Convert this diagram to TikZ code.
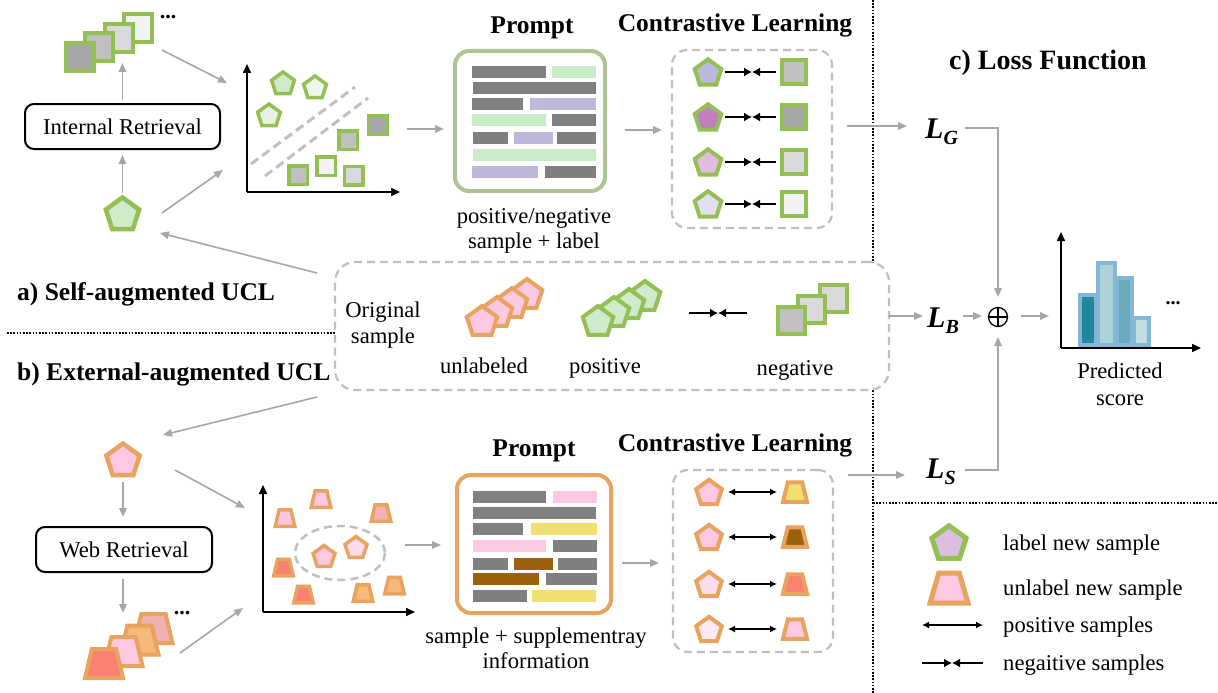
\documentclass[tikz,border=0pt]{standalone}
\usepackage{fontspec}
\setmainfont{Liberation Serif}
\usetikzlibrary{arrows.meta,calc}
\definecolor{cgreen}{HTML}{93BF55}
\definecolor{corange}{HTML}{E8A35E}
\definecolor{cgrayline}{HTML}{A6A6A6}
\definecolor{cdash}{HTML}{BFBFBF}
\definecolor{gA}{HTML}{A6A6A6}
\definecolor{gB}{HTML}{C0C0C0}
\definecolor{gC}{HTML}{D9D9D9}
\definecolor{gD}{HTML}{F2F2F2}
\definecolor{lgreen}{HTML}{CFEBCB}
\definecolor{lgreenB}{HTML}{E4F3E1}
\definecolor{lgreenC}{HTML}{F0F8EE}
\definecolor{barG}{HTML}{7F7F7F}
\definecolor{barGreen}{HTML}{CBEACA}
\definecolor{barPurple}{HTML}{BDB9DA}
\definecolor{cpink}{HTML}{FCC8E2}
\definecolor{cpinkB}{HTML}{FDDCEE}
\definecolor{cpinkC}{HTML}{FDE9F4}
\definecolor{csalmon}{HTML}{FA8072}
\definecolor{clorange}{HTML}{F5B97A}
\definecolor{crose}{HTML}{EFB1B1}
\definecolor{cyellow}{HTML}{F1E070}
\definecolor{cbrown}{HTML}{9C610C}
\definecolor{cpromptG}{HTML}{B1C394}
\definecolor{cpurpA}{HTML}{BDB9DA}
\definecolor{cpurpB}{HTML}{C17FC0}
\definecolor{cpurpC}{HTML}{E2BCE0}
\definecolor{cpurpD}{HTML}{E1E0F0}
\definecolor{clegpurp}{HTML}{DDBEDD}
\definecolor{cblueb}{HTML}{84B6D8}
\definecolor{ctealA}{HTML}{23869A}
\definecolor{ctealB}{HTML}{AED2DA}
\definecolor{ctealC}{HTML}{69ABB8}
\definecolor{ctealD}{HTML}{C0DDE1}
% pentagon: [lw]{x}{y}{R}{fill}{draw}
\newcommand\pent[6][3.5]{%
  \filldraw[fill=#5,draw=#6,line width=#1,line join=miter]
   (#2,#3-#4) -- (#2+0.951*#4,#3-0.309*#4) -- (#2+0.588*#4,#3+0.809*#4)
   -- (#2-0.588*#4,#3+0.809*#4) -- (#2-0.951*#4,#3-0.309*#4) -- cycle;}
% square: [lw]{x}{y}{size}{fill}
\newcommand\sqr[5][4]{\filldraw[fill=#5,draw=cgreen,line width=#1,line join=miter] (#2-#4/2,#3-#4/2) rectangle (#2+#4/2,#3+#4/2);}
% trapezoid: [lw]{x}{y}{w}{h}{fill}{ratio}
\newcommand\trap[7][4]{\filldraw[fill=#6,draw=corange,line width=#1,line join=miter] (#2-#4/2,#3+#5/2) -- (#2+#4/2,#3+#5/2) -- (#2+#7*#4,#3-#5/2) -- (#2-#7*#4,#3-#5/2) -- cycle;}
% prompt bar
\newcommand\pbar[4]{\fill[#4] (#1,#3-5.8) rectangle (#2,#3+5.8);}
\newcommand\Lsym[1]{{\fontsize{30}{30}\selectfont\bfseries\itshape L}\raisebox{-6pt}{\fontsize{20}{20}\selectfont\bfseries\itshape #1}}
\begin{document}
\begin{tikzpicture}[x=1pt,y=-1pt, font=\fontsize{22.6}{27}\selectfont,
  garrow/.style={draw=cgrayline,line width=1.6,-{Triangle[length=9,width=7.5]}},
  axarrow/.style={draw=black,line width=1.6,-{Triangle[length=9,width=8]}},
  posarr/.style={draw=black,line width=1.3,{Latex[length=7,width=7]}-{Latex[length=7,width=7]}},
  negarr/.style={draw=black,line width=1.3,-{Latex[length=8,width=9]}},
  dashbox/.style={draw=cdash,line width=2.2,dash pattern=on 8pt off 5pt,rounded corners=15,inner sep=0},
  retbox/.style={draw=black,line width=2,rounded corners=9,fill=white,inner sep=0},
  txt/.style={inner sep=0pt,anchor=base},
  ttl/.style={txt,font=\fontsize{25.5}{28}\selectfont\bfseries},
  sep/.style={draw=black,line width=1.6,dash pattern=on 1.6pt off 1.6pt}
]
\useasboundingbox (0,0) rectangle (1218,693);
\fill[white] (0,0) rectangle (1218,693);

% separators
\draw[sep] (873,0) -- (873,693);
\draw[sep] (7,333) -- (340,333);
\draw[sep] (873,503) -- (1218,503);

% section labels
\node[ttl,anchor=base west] (lblA) at (17,300) {a) Self-augmented UCL};
\node[ttl,anchor=base west] (lblB) at (17,380) {b) External-augmented UCL};
\node[txt,font=\fontsize{28}{30}\selectfont\bfseries] (lblC) at (1048,70) {c) Loss Function};

% ===== top-left =====
\sqr{138}{28}{28}{gD}
\sqr{119}{38}{28}{gC}
\sqr{99}{47}{28}{gB}
\sqr{80}{57}{28}{gA}
\node[txt,font=\fontsize{22}{22}\selectfont\bfseries] (dotsA) at (168,19) {...};
\node[retbox,minimum width=195,minimum height=45] (ir) at (122.5,126.5) {Internal Retrieval};
\pent[4.5]{122.5}{215}{17.5}{lgreen}{cgreen}
\coordinate (pAtop) at (122.5,193);
\coordinate (pAright) at (162,213);
\coordinate (pAin) at (160,233);
\coordinate (stackA) at (122.5,63);
\coordinate (stackAout) at (162,50);
\coordinate (scA1) at (227,83);
\coordinate (scA2) at (223,170);
\draw[garrow,shorten >=5pt] (pAtop) -- (ir.south);
\draw[garrow,shorten <=3pt] (ir.north) -- (stackA);
\draw[garrow] (stackAout) -- (scA1);
\draw[garrow] (pAright) -- (scA2);

% ===== top scatter =====
\coordinate (oA) at (247,192);
\coordinate (oAy) at (247,64);
\coordinate (oAx) at (400,192);
\draw[axarrow] (oA) -- (oAy);
\draw[axarrow] (oA) -- (oAx);
\draw[cdash,line width=3,dash pattern=on 9pt off 5pt] (251,164) -- (355,87);
\draw[cdash,line width=3,dash pattern=on 9pt off 5pt] (265,176) -- (368,98);
\pent{283}{84}{12}{lgreen}{cgreen}
\pent{315}{88}{12}{lgreenC}{cgreen}
\pent{269}{116}{12}{lgreenB}{cgreen}
\sqr[3.5]{377.5}{125}{18.5}{gA}
\sqr[3.5]{348}{140}{18.5}{gB}
\sqr[3.5]{326}{166}{18.5}{gD}
\sqr[3.5]{298}{175}{18.5}{gB}
\sqr[3.5]{353.5}{175.5}{18.5}{gC}
\coordinate (scAout) at (407,129);
\coordinate (pbAin) at (444,129);
\draw[garrow] (scAout) -- (pbAin);

% ===== top prompt =====
\node[ttl] (ptA) at (532,34) {Prompt};
\node[draw=cpromptG,line width=4,rounded corners=14,minimum width=150,minimum height=140,inner sep=0] (pbA) at (530,121) {};
\pbar{472}{546}{72}{barG} \pbar{552}{596}{72}{barGreen}
\pbar{473}{596}{88}{barG}
\pbar{472}{523}{104}{barG} \pbar{530}{596}{104}{barPurple}
\pbar{472}{546}{120}{barGreen} \pbar{552}{596}{120}{barG}
\pbar{473}{508}{138}{barG} \pbar{514}{553}{138}{barPurple} \pbar{557}{596}{138}{barG}
\pbar{473}{596}{155}{barGreen}
\pbar{472}{538}{172}{barPurple} \pbar{545}{596}{172}{barG}
\node[txt] (capA1) at (534,223) {positive/negative};
\node[txt] (capA2) at (534,248) {sample + label};
\coordinate (pbAout) at (625,130);
\coordinate (cbAin) at (662,130);
\draw[garrow] (pbAout) -- (cbAin);

% ===== top contrastive =====
\node[ttl] (ctA) at (735,32) {Contrastive Learning};
\node[dashbox,minimum width=160,minimum height=178] (cbA) at (752,139) {};
\foreach \yy/\pf/\sf in {72/cpurpA/gB,117/cpurpB/gA,162/cpurpC/gC,204/cpurpD/gD}{
  \pent[4]{708}{\yy+1.3}{14}{\pf}{cgreen}
  \sqr{794}{\yy}{24}{\sf}
  \coordinate (nl) at (725,\yy);
  \coordinate (nm) at (752,\yy);
  \coordinate (nr) at (776,\yy);
  \draw[negarr] (nl) -- (nm);
  \draw[negarr] (nr) -- (nm);
}
\coordinate (cbAout) at (847,126);
\node[txt,anchor=base west] (LG) at (925,138) {\Lsym{G}};
\coordinate (LGin) at (907,126);
\draw[garrow] (cbAout) -- (LGin);

% ===== middle box =====
\node[dashbox,fill=white,rounded corners=20,minimum width=554,minimum height=128] (mb) at (612,326) {};
\node[txt] (orig1) at (383,317) {Original};
\node[txt] (orig2) at (383,343) {sample};
\pent[4]{527}{295}{16}{cpink}{corange}
\pent[4]{512}{304}{16}{cpink}{corange}
\pent[4]{497}{313}{16}{cpink}{corange}
\pent[4]{482}{322}{16}{cpink}{corange}
\node[txt] (unl) at (484,373) {unlabeled};
\pent[4]{645}{297}{16}{lgreen}{cgreen}
\pent[4]{629}{305}{16}{lgreen}{cgreen}
\pent[4]{614}{313}{16}{lgreen}{cgreen}
\pent[4]{598}{322}{16}{lgreen}{cgreen}
\node[txt] (posl) at (605,373) {positive};
\coordinate (mnl) at (689,313);
\coordinate (mnm) at (718,313);
\coordinate (mnr) at (747,313);
\draw[negarr] (mnl) -- (mnm);
\draw[negarr] (mnr) -- (mnm);
\sqr{833}{298}{27}{gC}
\sqr{811}{309}{27}{gC}
\sqr{791}{320}{27}{gB}
\node[txt] (negl) at (795,375) {negative};
\coordinate (mbA) at (317,273);
\coordinate (mbB) at (317,397);
\coordinate (pBin) at (163,435);
\draw[garrow] (mbA) -- (pAin);
\draw[garrow] (mbB) -- (pBin);

% ===== loss =====
\node[txt,anchor=base west] (LB) at (927,327) {\Lsym{B}};
\node[txt,anchor=base west] (LS) at (926,478) {\Lsym{S}};
\node[circle,draw=black,line width=1.3,minimum size=19,inner sep=0] (plus) at (998,317) {};
\draw[black,line width=1.3] (plus.north) -- (plus.south) (plus.west) -- (plus.east);
\coordinate (mbout) at (889,316);
\coordinate (LBin) at (923,316);
\coordinate (LBout) at (963,316);
\coordinate (plusin) at (982,316);
\coordinate (plusout) at (1021,316);
\coordinate (chartin) at (1049,316);
\coordinate (LGout) at (965,128);
\coordinate (plustop) at (998,297);
\coordinate (LSout) at (965,470);
\coordinate (plusbot) at (998,337);
\draw[garrow] (mbout) -- (LBin);
\draw[garrow] (LBout) -- (plusin);
\draw[garrow] (plusout) -- (chartin);
\draw[garrow] (LGout) -| (plustop);
\draw[garrow] (LSout) -| (plusbot);
% chart
\coordinate (oC) at (1061,348);
\coordinate (oCy) at (1061,232);
\coordinate (oCx) at (1201,348);
\filldraw[fill=ctealA,draw=cblueb,line width=4] (1080.3,295.3) rectangle (1096.3,345);
\filldraw[fill=ctealB,draw=cblueb,line width=4] (1098,263) rectangle (1114.7,345);
\filldraw[fill=ctealC,draw=cblueb,line width=4] (1117,277.7) rectangle (1132,345);
\filldraw[fill=ctealD,draw=cblueb,line width=4] (1134.3,318) rectangle (1149,345);
\draw[axarrow] (oC) -- (oCy);
\draw[axarrow] (oC) -- (oCx);
\node[txt,font=\fontsize{20}{20}\selectfont\bfseries] (dotsC) at (1173,304) {...};
\node[txt] (pred1) at (1120,378) {Predicted};
\node[txt] (pred2) at (1120,405) {score};

% ===== bottom-left =====
\pent[4.5]{123}{461}{17.5}{cpink}{corange}
\coordinate (pBbot) at (123,482);
\coordinate (pBright) at (175,470);
\node[retbox,minimum width=176,minimum height=45] (wr) at (124,549.5) {Web Retrieval};
\draw[garrow,shorten >=9pt] (pBbot) -- (wr.north -| pBbot);
\coordinate (stackB) at (123,613);
\draw[garrow,shorten <=6pt] (wr.south -| stackB) -- (stackB);
\trap[4]{153.5}{628.5}{38}{29}{crose}{0.32}
\trap[4]{139.5}{640}{38}{29}{clorange}{0.32}
\trap[4]{123.5}{651.5}{38}{29}{cpink}{0.32}
\trap[4]{104}{663.5}{38}{29}{csalmon}{0.32}
\node[txt,font=\fontsize{22}{22}\selectfont\bfseries] (dotsB) at (182,614) {...};
\coordinate (stackBout) at (180,653);
\coordinate (scB1) at (245,508);
\coordinate (scB2) at (243,608);
\draw[garrow] (pBright) -- (scB1);
\draw[garrow] (stackBout) -- (scB2);

% ===== bottom scatter =====
\coordinate (oB) at (263,612);
\coordinate (oBy) at (263,485);
\coordinate (oBx) at (415,612);
\draw[axarrow] (oB) -- (oBy);
\draw[axarrow] (oB) -- (oBx);
\draw[cdash,line width=2.5,dash pattern=on 8pt off 5pt] (340,553) ellipse [x radius=45,y radius=27];
\pent{324}{557}{11.5}{cpink}{corange}
\pent{356}{548}{11.5}{cpinkB}{corange}
\trap[3.5]{285}{518}{19.5}{16.5}{cpink}{0.3}
\trap[3.5]{321}{499}{19.5}{16.5}{cpink}{0.3}
\trap[3.5]{381}{513}{19.5}{16.5}{crose}{0.3}
\trap[3.5]{283.5}{567.5}{19.5}{16.5}{csalmon}{0.3}
\trap[3.5]{303.5}{594.5}{19.5}{16.5}{csalmon}{0.3}
\trap[3.5]{363}{593}{19.5}{16.5}{clorange}{0.3}
\trap[3.5]{394.5}{585.5}{19.5}{16.5}{clorange}{0.3}
\coordinate (scBout) at (405,545);
\coordinate (pbBin) at (441,545);
\draw[garrow] (scBout) -- (pbBin);

% ===== bottom prompt =====
\node[ttl] (ptB) at (534,456) {Prompt};
\node[draw=corange,line width=4,rounded corners=14,minimum width=154,minimum height=138,inner sep=0] (pbB) at (534,544) {};
\pbar{473}{546}{497}{barG} \pbar{553}{597}{497}{cpink}
\pbar{473}{596}{513}{barG}
\pbar{473}{523}{529}{barG} \pbar{531}{597}{529}{cyellow}
\pbar{473}{546}{546}{cpink} \pbar{553}{597}{546}{barG}
\pbar{473}{508}{564}{barG} \pbar{514}{553}{564}{cbrown} \pbar{558}{597}{564}{barG}
\pbar{473}{539}{579}{cbrown} \pbar{546}{597}{579}{barG}
\pbar{473}{527}{596}{barG} \pbar{532}{596}{596}{cyellow}
\node[txt] (capB1) at (536,643) {sample + supplementray};
\node[txt] (capB2) at (536,668) {information};
\coordinate (pbBout) at (622,563);
\coordinate (cbBin) at (659,563);
\draw[garrow] (pbBout) -- (cbBin);

% ===== bottom contrastive =====
\node[ttl] (ctB) at (735,451) {Contrastive Learning};
\node[dashbox,minimum width=160,minimum height=182] (cbB) at (753,561) {};
\foreach \yy/\pf/\tf in {492/cpink/cyellow,537/cpink/cbrown,584/cpinkB/csalmon,629/cpinkC/cpink}{
  \pent[4]{709}{\yy+1.3}{13.5}{\pf}{corange}
  \trap[4]{795}{\yy}{24}{19.5}{\tf}{0.3}
  \coordinate (pl) at (728,\yy);
  \coordinate (pr) at (777,\yy);
  \draw[posarr] (pl) -- (pr);
}
\coordinate (cbBout) at (848,475);
\coordinate (LSin) at (905,475);
\draw[garrow] (cbBout) -- (LSin);

% ===== legend =====
\pent[5]{949}{543.7}{18}{clegpurp}{cgreen}
\trap[5]{949}{588}{38}{30}{cpink}{0.27}
\coordinate (lpl) at (922,625);
\coordinate (lpr) at (983,625);
\draw[posarr] (lpl) -- (lpr);
\coordinate (lnl) at (922,663);
\coordinate (lnm) at (952,663);
\coordinate (lnr) at (983,663);
\draw[negarr] (lnl) -- (lnm);
\draw[negarr] (lnr) -- (lnm);
\node[txt,anchor=base west] (leg1) at (1003,550) {label new sample};
\node[txt,anchor=base west] (leg2) at (1003,595) {unlabel new sample};
\node[txt,anchor=base west] (leg3) at (1003,632) {positive samples};
\node[txt,anchor=base west] (leg4) at (1003,670) {negaitive samples};
\end{tikzpicture}
\end{document}
